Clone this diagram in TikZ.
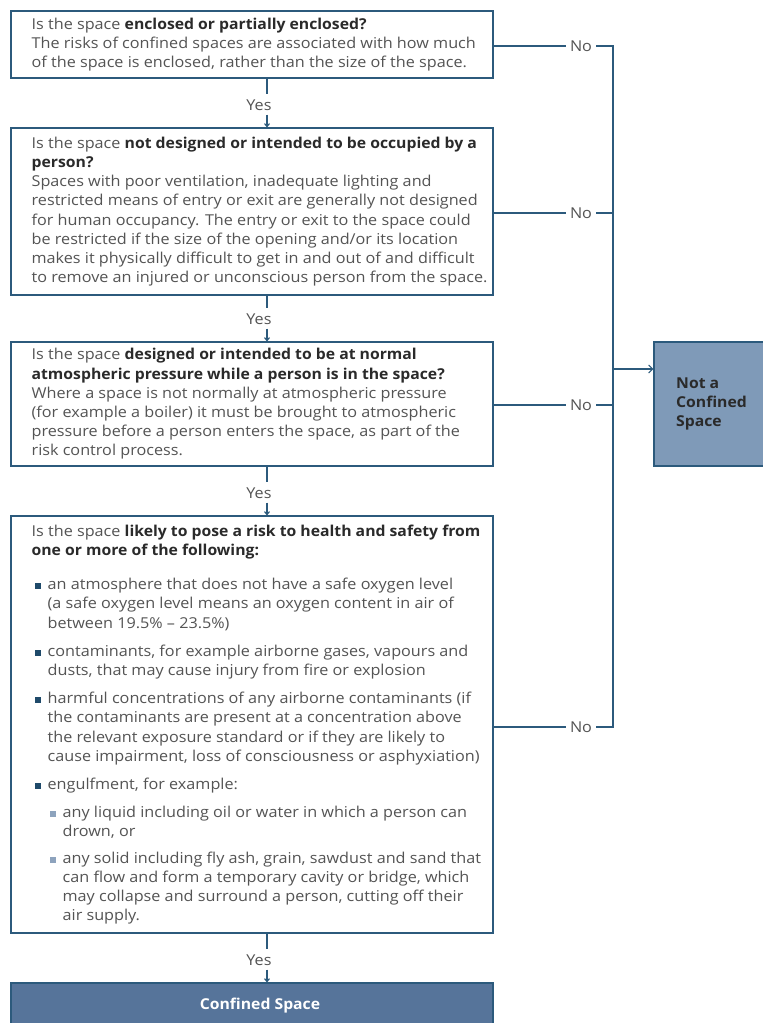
\documentclass[tikz,border=0pt]{standalone}
\usepackage{fontspec}
\setmainfont{Open Sans}[FakeStretch=1.08,BoldFeatures={FakeStretch=1.05}]
\usetikzlibrary{arrows.meta}
\definecolor{linec}{HTML}{2C5A7C}
\definecolor{bodytext}{HTML}{545454}
\definecolor{boldtext}{HTML}{2A2A2A}
\definecolor{notfill}{HTML}{7F9AB8}
\definecolor{yesfill}{HTML}{56749A}
\definecolor{bulone}{HTML}{1F4A6A}
\definecolor{bultwo}{HTML}{8DA3BD}
\newcommand{\hl}[1]{{\bfseries\color{boldtext}#1}}
\newcommand{\bulA}{\makebox[16pt][l]{\hspace{3pt}{\color{bulone}\rule[0.5pt]{6pt}{6pt}}}}
\newcommand{\bulB}{\hspace*{16pt}\makebox[15pt][l]{\hspace{2pt}{\color{bultwo}\rule[0.5pt]{6pt}{6pt}}}}

\begin{document}
\begin{tikzpicture}[x=1pt,y=-1pt,
  qbox/.style={draw=linec,line width=1.1pt,minimum width=482pt,inner sep=0pt},
  qtext/.style={anchor=west,align=left,inner sep=0pt,text=bodytext,font=\fontsize{15}{19.2}\selectfont},
  lbl/.style={text=bodytext,font=\fontsize{15}{16}\selectfont,inner xsep=4pt,inner ysep=1pt},
  link/.style={draw=linec,line width=1.1pt},
  yesarrow/.style={link,shorten <=3pt,-{Straight Barb[length=3pt,width=5pt]}}]
\clip (0,0) rectangle (763,1023);
\fill[white] (0,0) rectangle (763,1023);

% questions
\node[qbox,minimum height=67pt] (q1) at (252,44.5) {};
\node[qtext] (t1) at ([xshift=21pt]q1.west) {Is the space \hl{enclosed or partially enclosed?}\\
The risks of confined spaces are associated with how much\\
of the space is enclosed, rather than the size of the space.};

\node[qbox,minimum height=167pt] (q2) at (252,211.5) {};
\node[qtext] (t2) at ([xshift=21pt]q2.west) {Is the space \hl{not designed or intended to be occupied by a}\\
\hl{person?}\\
Spaces with poor ventilation, inadequate lighting and\\
restricted means of entry or exit are generally not designed\\
for human occupancy. The entry or exit to the space could\\
be restricted if the size of the opening and/or its location\\
makes it physically difficult to get in and out of and difficult\\
to remove an injured or unconscious person from the space.};

\node[qbox,minimum height=124pt] (q3) at (252,404) {};
\node[qtext] (t3) at ([xshift=21pt]q3.west) {Is the space \hl{designed or intended to be at normal}\\
\hl{atmospheric pressure while a person is in the space?}\\
Where a space is not normally at atmospheric pressure\\
(for example a boiler) it must be brought to atmospheric\\
pressure before a person enters the space, as part of the\\
risk control process.};

\node[qbox,minimum height=417pt] (q4) at (252,724.5) {};
\node[qtext] (t4) at ([xshift=21pt]q4.west) {Is the space \hl{likely to pose a risk to health and safety from}\\
\hl{one or more of the following:}\\[15pt]
\bulA an atmosphere that does not have a safe oxygen level\\
\hspace*{16pt}(a safe oxygen level means an oxygen content in air of\\
\hspace*{16pt}between 19.5\% -- 23.5\%)\\[9pt]
\bulA contaminants, for example airborne gases, vapours and\\
\hspace*{16pt}dusts, that may cause injury from fire or explosion\\[9pt]
\bulA harmful concentrations of any airborne contaminants (if\\
\hspace*{16pt}the contaminants are present at a concentration above\\
\hspace*{16pt}the relevant exposure standard or if they are likely to\\
\hspace*{16pt}cause impairment, loss of consciousness or asphyxiation)\\[9pt]
\bulA engulfment, for example:\\[9pt]
\bulB any liquid including oil or water in which a person can\\
\hspace*{31pt}drown, or\\[7pt]
\bulB any solid including fly ash, grain, sawdust and sand that\\
\hspace*{31pt}can flow and form a temporary cavity or bridge, which\\
\hspace*{31pt}may collapse and surround a person, cutting off their\\
\hspace*{31pt}air supply.};

% results
\node[qbox,fill=yesfill,minimum height=57pt] (q5) at (252,1011.5) {};
\node[font=\fontsize{15}{16}\selectfont\bfseries,text=white] (t5) at (260,1006) {Confined Space};

\node[draw=linec,line width=1.1pt,fill=notfill,minimum width=136pt,minimum height=124pt] (notbox) at (722,404) {};
\node[qtext,font=\fontsize{15}{19.2}\selectfont\bfseries,text=boldtext] (nottext) at (676,404) {Not a\\ Confined\\ Space};

% yes links
\node[lbl] (yes1) at (259,105) {Yes};
\node[lbl] (yes2) at (259,319) {Yes};
\node[lbl] (yes3) at (259,493) {Yes};
\node[lbl] (yes4) at (259,960) {Yes};
\draw[link,shorten >=4pt] ([xshift=15pt]q1.south) -- ([xshift=8pt]yes1.north);
\draw[yesarrow] ([xshift=8pt]yes1.south) -- ([xshift=15pt]q2.north);
\draw[link,shorten >=4pt] ([xshift=15pt]q2.south) -- ([xshift=8pt]yes2.north);
\draw[yesarrow] ([xshift=8pt]yes2.south) -- ([xshift=15pt]q3.north);
\draw[link,shorten >=4pt] ([xshift=15pt]q3.south) -- ([xshift=8pt]yes3.north);
\draw[yesarrow] ([xshift=8pt]yes3.south) -- ([xshift=15pt]q4.north);
\draw[link,shorten >=4pt] ([xshift=15pt]q4.south) -- ([xshift=8pt]yes4.north);
\draw[yesarrow] ([xshift=8pt]yes4.south) -- ([xshift=15pt]q5.north);

% no links
\node[lbl] (no1) at (581,46) {No};
\node[lbl] (no2) at (581,213) {No};
\node[lbl] (no3) at (581,405) {No};
\node[lbl] (no4) at (581,727) {No};
\coordinate (trunktop) at (613,46);
\coordinate (trunkbot) at (613,727);
\coordinate (join) at (613,369);
\draw[link] (q1.east |- no1) -- (no1.west);
\draw[link] (q2.east |- no2) -- (no2.west);
\draw[link] (q3.east |- no3) -- (no3.west);
\draw[link] (q4.east |- no4) -- (no4.west);
\draw[link] (no1.east) -- (trunktop) -- (trunkbot) -- (no4.east);
\draw[link] (no2.east) -- (no2 -| trunktop);
\draw[link] (no3.east) -- (no3 -| trunktop);
\draw[link,-{Straight Barb[length=4pt,width=8pt]}] (join) -- (join -| notbox.west);
\end{tikzpicture}
\end{document}
